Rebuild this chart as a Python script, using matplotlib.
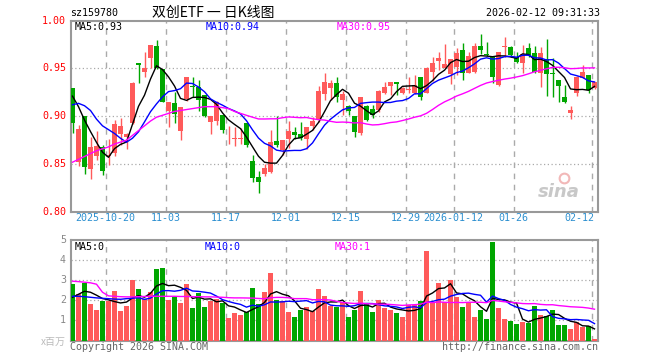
import matplotlib
matplotlib.use("Agg")
import matplotlib.pyplot as plt
import numpy as np

# ---------------- data ----------------
opens = [0.9295, 0.8517, 0.9000, 0.8451, 0.8587, 0.8684, 0.8580, 0.8621, 0.8813, 0.8785,
         0.8927, 0.9552, 0.9465, 0.9604, 0.9733, 0.9493, 0.9059, 0.9142, 0.8851, 0.9180,
         0.9312, 0.9305, 0.9222, 0.8944, 0.8953, 0.9008, 0.8800, 0.8762, 0.8760, 0.8927,
         0.8535, 0.8368, 0.8399, 0.8413, 0.8743, 0.8649, 0.8764, 0.8833, 0.8816, 0.8760,
         0.8899, 0.8969, 0.9233, 0.9299, 0.9351, 0.9170, 0.9108, 0.9003, 0.8823, 0.9108,
         0.9073, 0.9066, 0.9247, 0.9316, 0.9361, 0.9247, 0.9275, 0.9247, 0.9406, 0.9247,
         0.9465, 0.9580, 0.9500, 0.9438, 0.9517, 0.9691, 0.9448, 0.9465, 0.9733, 0.9648,
         0.9622, 0.9326, 0.9724, 0.9719, 0.9622, 0.9559, 0.9708, 0.9656, 0.9455, 0.9600,
         0.9455, 0.9378, 0.9205, 0.9031, 0.9240, 0.9400, 0.9431, 0.9292]
highs = [0.9300, 0.8910, 0.9003, 0.8781, 0.8847, 0.8701, 0.8760, 0.8962, 0.8986, 0.8826,
         0.9360, 0.9560, 0.9674, 0.9743, 0.9795, 0.9495, 0.9153, 0.9257, 0.9094, 0.9415,
         0.9413, 0.9380, 0.9222, 0.8998, 0.9158, 0.9010, 0.8895, 0.8885, 0.8875, 0.8934,
         0.8597, 0.8424, 0.8503, 0.8858, 0.9003, 0.8753, 0.8955, 0.8892, 0.8944, 0.8892,
         0.8997, 0.9316, 0.9448, 0.9378, 0.9406, 0.9267, 0.9118, 0.9003, 0.9198, 0.9118,
         0.9118, 0.9274, 0.9361, 0.9361, 0.9361, 0.9309, 0.9406, 0.9430, 0.9406, 0.9510,
         0.9615, 0.9674, 0.9750, 0.9594, 0.9708, 0.9767, 0.9674, 0.9760, 0.9858, 0.9778,
         0.9622, 0.9674, 0.9830, 0.9733, 0.9674, 0.9743, 0.9760, 0.9733, 0.9719, 0.9810,
         0.9604, 0.9378, 0.9326, 0.9108, 0.9420, 0.9535, 0.9431, 0.9361]
lows = [0.8830, 0.8482, 0.8398, 0.8342, 0.8545, 0.8382, 0.8486, 0.8580, 0.8701, 0.8663,
        0.8920, 0.9344, 0.9413, 0.9500, 0.9490, 0.9150, 0.8892, 0.8933, 0.8747, 0.9160,
        0.9200, 0.9050, 0.8990, 0.8815, 0.8910, 0.8830, 0.8712, 0.8690, 0.8712, 0.8684,
        0.8309, 0.8198, 0.8372, 0.8410, 0.8677, 0.8597, 0.8667, 0.8764, 0.8753, 0.8656,
        0.8858, 0.8944, 0.9170, 0.9170, 0.9153, 0.9014, 0.9014, 0.8781, 0.8806, 0.8955,
        0.8979, 0.9049, 0.9233, 0.9222, 0.9222, 0.9233, 0.9240, 0.9233, 0.9170, 0.9240,
        0.9372, 0.9483, 0.9500, 0.9337, 0.9431, 0.9378, 0.9448, 0.9448, 0.9650, 0.9628,
        0.9351, 0.9316, 0.9622, 0.9622, 0.9559, 0.9448, 0.9622, 0.9448, 0.9302, 0.9210,
        0.9205, 0.9153, 0.9135, 0.8969, 0.9212, 0.9396, 0.9247, 0.9285]
closes = [0.8934, 0.8868, 0.8465, 0.8677, 0.8691, 0.8423, 0.8600, 0.8917, 0.8899, 0.8816,
          0.9351, 0.9535, 0.9500, 0.9743, 0.9507, 0.9153, 0.9153, 0.9024, 0.9094, 0.9405,
          0.9305, 0.9170, 0.9005, 0.8998, 0.9145, 0.8858, 0.8806, 0.8768, 0.8778, 0.8700,
          0.8354, 0.8309, 0.8458, 0.8730, 0.8701, 0.8753, 0.8851, 0.8799, 0.8771, 0.8885,
          0.8955, 0.9264, 0.9361, 0.9351, 0.9198, 0.9233, 0.9059, 0.8840, 0.9198, 0.8962,
          0.9014, 0.9264, 0.9309, 0.9361, 0.9337, 0.9292, 0.9282, 0.9326, 0.9200, 0.9500,
          0.9552, 0.9611, 0.9542, 0.9594, 0.9663, 0.9448, 0.9628, 0.9733, 0.9691, 0.9644,
          0.9413, 0.9674, 0.9728, 0.9639, 0.9569, 0.9646, 0.9639, 0.9465, 0.9663, 0.9445,
          0.9445, 0.9320, 0.9150, 0.9066, 0.9406, 0.9460, 0.9274, 0.9354]
volumes = [2.80, 2.30, 2.87, 1.80, 1.50, 1.97, 1.97, 2.45, 1.45, 1.72,
           3.00, 2.55, 2.05, 2.42, 3.55, 3.62, 2.00, 2.17, 1.88, 2.80,
           1.60, 2.35, 1.65, 1.97, 2.05, 1.85, 1.10, 1.35, 1.25, 1.42,
           2.60, 1.80, 2.40, 3.35, 2.00, 1.97, 1.40, 1.15, 1.50, 1.67,
           1.45, 2.55, 2.20, 1.72, 1.67, 1.92, 1.15, 1.50, 2.45, 1.82,
           1.40, 2.00, 1.60, 1.50, 1.35, 1.15, 1.75, 1.75, 1.95, 4.45,
           1.92, 2.85, 1.90, 3.00, 2.17, 1.67, 1.90, 1.15, 1.50, 1.05,
           4.90, 1.60, 1.05, 0.95, 0.82, 0.90, 0.87, 1.72, 1.27, 1.20,
           1.50, 0.77, 0.77, 0.55, 0.92, 0.65, 0.70, 0.07]

# moving-average values at the left edge (history before the visible window)
ma5_head = [0.921, 0.910, 0.896, 0.884]
ma10_head = [0.912, 0.9135, 0.911, 0.906, 0.897, 0.890, 0.886, 0.882, 0.877]
ma30_head = [0.852, 0.855, 0.858, 0.861, 0.864, 0.866, 0.868, 0.871, 0.873, 0.875,
             0.880, 0.885, 0.890, 0.895, 0.899, 0.901, 0.903, 0.905, 0.906, 0.907,
             0.908, 0.909, 0.910, 0.910, 0.910, 0.909, 0.908, 0.905, 0.903]
vma5_head = [2.15, 2.30, 2.45, 2.40]
vma10_head = [2.20, 2.20, 2.18, 2.15, 2.12, 2.10, 2.08, 2.06, 2.05]
vma30_head = [2.95, 2.93, 2.90, 2.87, 2.80, 2.40, 2.22, 2.20, 2.18, 2.17,
              2.17, 2.18, 2.19, 2.20, 2.20, 2.20, 2.20, 2.20, 2.19, 2.19,
              2.18, 2.18, 2.17, 2.17, 2.16, 2.15, 2.13, 2.12, 2.12]

date_labels = ["2025-10-20", "11-03", "11-17", "12-01", "12-15", "12-29",
               "2026-01-12", "01-26", "02-12"]
date_index = [6, 16, 26, 36, 46, 56, 64, 74, 87]
price_ticks = [0.80, 0.85, 0.90, 0.95, 1.00]
vol_ticks = [1, 2, 3, 4, 5]

# ---------------- helpers ----------------
def moving_average(values, n, head):
    v = np.asarray(values, dtype=float)
    out = list(head)
    for i in range(len(head), len(v)):
        out.append(v[i - n + 1:i + 1].mean())
    return np.array(out)

RED = "#FF5A5A"
GREEN = "#00A600"
GRID = "#AAAAAA"
FRAME = "#999999"
MONO = "DejaVu Sans Mono"
CJK = ["Noto Sans CJK SC", "DejaVu Sans"]

W, H = 660, 360
fig = plt.figure(figsize=(6.6, 3.6), dpi=100)
fig.patch.set_facecolor("white")

def rect(x0, y0, x1, y1):
    return [x0 / W, 1 - y1 / H, (x1 - x0) / W, (y1 - y0) / H]

def ftxt(x, y, s, **kw):
    fig.text(x / W, 1 - y / H, s, **kw)

n = len(closes)
x = np.arange(n)
o = np.array(opens); c = np.array(closes); hi = np.array(highs); lo = np.array(lows)
up = c >= o
colors = np.where(up, RED, GREEN)
xlim = (-0.25, 87.58)

# ---------------- main panel ----------------
ax = fig.add_axes(rect(71, 20.5, 598, 212))
ax.set_xlim(*xlim)
ax.set_ylim(0.80, 1.00)
for yv in [0.85, 0.90, 0.95]:
    ax.axhline(yv, color=GRID, lw=0.9, ls=(0, (1, 2)), zorder=1)
for xi in date_index:
    ax.axvline(xi - 0.5, color=GRID, lw=1.0, ls=(0, (4, 4)), zorder=1)

ax.vlines(x, lo, hi, colors=colors, lw=1.0, zorder=3)
body_bottom = np.minimum(o, c)
body_h = np.maximum(np.abs(c - o), 0.0009)
ax.bar(x, body_h, bottom=body_bottom, width=0.83, color=colors, lw=0, zorder=4)

ma5 = moving_average(closes, 5, ma5_head)
ma10 = moving_average(closes, 10, ma10_head)
ma30 = moving_average(closes, 30, ma30_head)
ax.plot(x, ma5, color="black", lw=1.0, zorder=5)
ax.plot(x, ma10, color="#0000FF", lw=1.0, zorder=5)
ax.plot(x, ma30, color="#FF00FF", lw=1.0, zorder=5)

ax.set_xticks([]); ax.set_yticks([])
for s in ax.spines.values():
    s.set_color(FRAME); s.set_linewidth(1.5)

# watermark
ax.text(0.965, 0.06, "sina", transform=ax.transAxes, ha="right", va="bottom",
        fontsize=13, fontweight="bold", style="italic", color="#C8C8C8", zorder=2)
ax.plot([0.935], [0.175], marker="o", ms=7, mfc="none", mec="#F2B8B8", mew=1.5,
        transform=ax.transAxes, zorder=2)

# y labels (price)
for pv in price_ticks:
    ypx = 20.5 + (1.00 - pv) / 0.20 * 191.5
    ftxt(66, ypx, f"{pv:.2f}", ha="right", va="center", fontsize=7.2,
         family=MONO, color="#FF0000")

# date labels
for lab, xi in zip(date_labels, date_index):
    xpx = 72.5 + 6 * xi - 3
    ha = "center"
    if xi == date_index[-1]:
        ha = "right"; xpx = 594
    ftxt(xpx, 218.5, lab, ha=ha, va="center", fontsize=7.2, family=MONO,
         color="#2B8FD0")

# header texts
ftxt(70, 13, "sz159780", ha="left", va="center", fontsize=7.2, family=MONO, color="black")
ftxt(152, 13, "双创ETF 一 日K线图", ha="left", va="center", fontsize=10,
     family=CJK, color="black")
ftxt(600, 13, "2026-02-12 09:31:33", ha="right", va="center", fontsize=7.2,
     family=MONO, color="black")
ftxt(75, 27.5, f"MA5:{ma5[-1]:.2f}", ha="left", va="center", fontsize=7.2,
     family=MONO, color="black")
ftxt(206, 27.5, f"MA10:{ma10[-1]:.2f}", ha="left", va="center", fontsize=7.2,
     family=MONO, color="#0000FF")
ftxt(337, 27.5, f"MA30:{ma30[-1]:.2f}", ha="left", va="center", fontsize=7.2,
     family=MONO, color="#FF00FF")

# ---------------- volume panel ----------------
av = fig.add_axes(rect(71, 240, 598, 340.5))
av.set_xlim(*xlim)
av.set_ylim(0, 5)
for yv in [1, 2, 3, 4]:
    av.axhline(yv, color=GRID, lw=0.9, ls=(0, (1, 2)), zorder=1)
for xi in date_index:
    av.axvline(xi - 0.5, color=GRID, lw=1.0, ls=(0, (4, 4)), zorder=1)
av.bar(x, volumes, width=0.83, color=colors, lw=0, zorder=3)

vma5 = moving_average(volumes, 5, vma5_head)
vma10 = moving_average(volumes, 10, vma10_head)
vma30 = moving_average(volumes, 30, vma30_head)
av.plot(x, vma5, color="black", lw=1.0, zorder=5)
av.plot(x, vma10, color="#0000FF", lw=1.0, zorder=5)
av.plot(x, vma30, color="#FF00FF", lw=1.0, zorder=5)
av.set_xticks([]); av.set_yticks([])
for s in av.spines.values():
    s.set_color(FRAME); s.set_linewidth(1.5)

for vv in vol_ticks:
    ypx = 340.5 - vv / 5 * 100.5
    ftxt(66, ypx, str(vv), ha="right", va="center", fontsize=7.2, family=MONO,
         color="#888888")
ftxt(66, 342, "x百万", ha="right", va="center", fontsize=7.2, family=CJK,
     color="#BBBBBB")

ftxt(75, 247.5, "MA5:0", ha="left", va="center", fontsize=7.2, family=MONO, color="black")
ftxt(205, 247.5, "MA10:0", ha="left", va="center", fontsize=7.2, family=MONO, color="#0000FF")
ftxt(335, 247.5, "MA30:1", ha="left", va="center", fontsize=7.2, family=MONO, color="#FF00FF")

ftxt(70, 347.5, "Copyright 2026 SINA.COM", ha="left", va="center", fontsize=7.2,
     family=MONO, color="#666666")
ftxt(598, 347.5, "http://finance.sina.com.cn", ha="right", va="center", fontsize=7.2,
     family=MONO, color="#666666")

fig.savefig("out.png", dpi=100, facecolor="white")
